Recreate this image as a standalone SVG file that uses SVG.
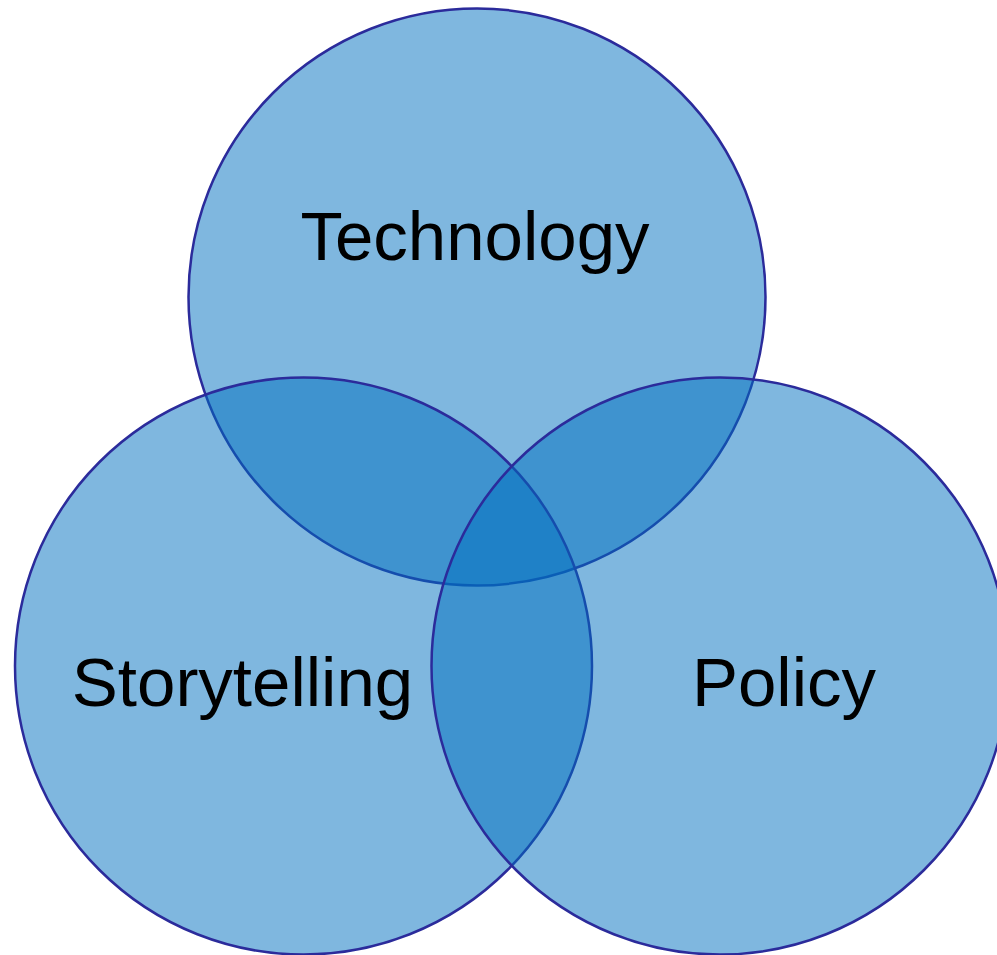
<svg xmlns="http://www.w3.org/2000/svg" width="997" height="955" viewBox="0 0 997 955">
<style>
.c{fill:#0070C0;fill-opacity:0.5;stroke:#2B2B9B;stroke-width:2.5}
.t{font-family:"Liberation Sans",Arial,sans-serif;font-size:69px;fill:#000;text-anchor:middle}
</style>
<rect width="997" height="955" fill="#fff"/>
<g id="technology"><circle class="c" cx="477" cy="297" r="288.5"/></g>
<g id="storytelling"><circle class="c" cx="303.5" cy="666" r="288.5"/></g>
<g id="policy"><circle class="c" cx="720" cy="666" r="288.5"/></g>
<g id="connectors"></g>
<g id="labels">
<text class="t" x="475" y="259.5">Technology</text>
<text class="t" x="242.5" y="705.5">Storytelling</text>
<text class="t" x="784" y="705.5">Policy</text>
</g>
</svg>
